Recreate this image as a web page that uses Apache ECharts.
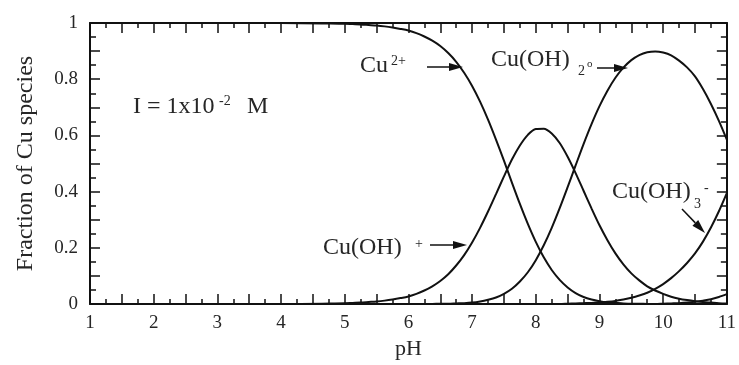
<!DOCTYPE html>
<html>
<head>
<meta charset="utf-8">
<script src="https://cdn.jsdelivr.net/npm/echarts@6/dist/echarts.min.js"></script>
<style>
  html, body { margin: 0; padding: 0; background: #fff; }
  #chart { width: 739px; height: 365px; }
</style>
</head>
<body>
<div id="chart"></div>
<script>
// pH grid: coarse on the flat part, 0.125 steps from pH 5 to 11
const phValues = [1, 2, 3, 4,
  5.0, 5.125, 5.25, 5.375, 5.5, 5.625, 5.75, 5.875,
  6.0, 6.125, 6.25, 6.375, 6.5, 6.625, 6.75, 6.875,
  7.0, 7.125, 7.25, 7.375, 7.5, 7.625, 7.75, 7.875,
  8.0, 8.125, 8.25, 8.375, 8.5, 8.625, 8.75, 8.875,
  9.0, 9.125, 9.25, 9.375, 9.5, 9.625, 9.75, 9.875,
  10.0, 10.125, 10.25, 10.375, 10.5, 10.625, 10.75, 10.875,
  11.0];

// Fraction of each copper species at every pH above
const cu2plus = [1, 1, 1, 1,
  0.997, 0.996, 0.995, 0.993, 0.991, 0.988, 0.984, 0.979,
  0.973, 0.964, 0.952, 0.937, 0.918, 0.893, 0.862, 0.823,
  0.776, 0.720, 0.656, 0.585, 0.510, 0.432, 0.356, 0.285,
  0.221, 0.166, 0.121, 0.086, 0.059, 0.039, 0.025, 0.016,
  0.010, 0.006, 0.004, 0.002, 0.001, 0.001, 0, 0,
  0, 0, 0, 0, 0, 0, 0, 0,
  0];
const cuOHplus = [0, 0, 0, 0,
  0.003, 0.004, 0.005, 0.007, 0.009, 0.012, 0.016, 0.021,
  0.027, 0.036, 0.048, 0.063, 0.082, 0.106, 0.137, 0.174,
  0.219, 0.271, 0.329, 0.391, 0.454, 0.514, 0.564, 0.602,
  0.623, 0.624, 0.607, 0.573, 0.524, 0.466, 0.403, 0.340,
  0.280, 0.227, 0.180, 0.141, 0.109, 0.084, 0.063, 0.048,
  0.036, 0.026, 0.019, 0.014, 0.010, 0.007, 0.005, 0.003,
  0.002];
const cuOH2 = [0, 0, 0, 0,
  0, 0, 0, 0, 0, 0, 0, 0,
  0, 0, 0, 0, 0.001, 0.001, 0.002, 0.003,
  0.005, 0.009, 0.015, 0.023, 0.036, 0.054, 0.080, 0.113,
  0.156, 0.209, 0.271, 0.341, 0.416, 0.493, 0.569, 0.640,
  0.704, 0.759, 0.805, 0.841, 0.868, 0.886, 0.896, 0.899,
  0.895, 0.885, 0.866, 0.842, 0.810, 0.765, 0.712, 0.652,
  0.585];
const cuOH3minus = [0, 0, 0, 0,
  0, 0, 0, 0, 0, 0, 0, 0,
  0, 0, 0, 0, 0, 0, 0, 0,
  0, 0, 0, 0, 0, 0, 0, 0,
  0, 0, 0, 0, 0.001, 0.002, 0.003, 0.004,
  0.006, 0.008, 0.011, 0.016, 0.022, 0.030, 0.040, 0.054,
  0.071, 0.092, 0.117, 0.146, 0.180, 0.222, 0.272, 0.330,
  0.395];
const cuOH4 = [0, 0, 0, 0,
  0, 0, 0, 0, 0, 0, 0, 0,
  0, 0, 0, 0, 0, 0, 0, 0,
  0, 0, 0, 0, 0, 0, 0, 0,
  0, 0, 0, 0, 0, 0, 0, 0,
  0, 0, 0, 0, 0, 0, 0, 0,
  0.001, 0.002, 0.003, 0.005, 0.008, 0.012, 0.017, 0.025,
  0.035];

const xTickLabels = ['1', '2', '3', '4', '5', '6', '7', '8', '9', '10', '11'];
const yTickLabels = ['0', '0.2', '0.4', '0.6', '0.8', '1'];

const SERIF = "'Liberation Serif', 'Times New Roman', serif";
const INK = '#111';
const TEXT = '#262626';

function pairs(ys) { return phValues.map((x, i) => [x, ys[i]]); }

function xAxisDef(pos, labels) {
  return {
    type: 'value', min: 1, max: 11, interval: 0.5, position: pos,
    axisLine: { show: true, onZero: false, lineStyle: { color: INK, width: 2 } },
    axisTick: { show: true, inside: true, length: 10, lineStyle: { color: INK, width: 1.5 } },
    minorTick: { show: true, splitNumber: 2, length: 5, lineStyle: { color: INK, width: 1.5 } },
    splitLine: { show: false },
    axisLabel: labels ? {
      show: true, margin: 10, fontFamily: SERIF, fontSize: 19, color: TEXT,
      formatter: v => {
        const i = Math.round(v) - 1;
        return Math.abs(v - Math.round(v)) < 1e-6 ? xTickLabels[i] : '';
      }
    } : { show: false },
    name: labels ? 'pH' : '',
    nameLocation: 'middle', nameGap: 34,
    nameTextStyle: { fontFamily: SERIF, fontSize: 22, color: TEXT }
  };
}

function yAxisDef(pos, labels) {
  return {
    type: 'value', min: 0, max: 1, interval: 0.1, position: pos,
    axisLine: { show: true, onZero: false, lineStyle: { color: INK, width: 2 } },
    axisTick: { show: true, inside: true, length: 10, lineStyle: { color: INK, width: 1.5 } },
    minorTick: { show: true, splitNumber: 2, length: 6, lineStyle: { color: INK, width: 1.5 } },
    splitLine: { show: false },
    axisLabel: labels ? {
      show: true, margin: 12, fontFamily: SERIF, fontSize: 19, color: TEXT,
      formatter: v => {
        const k = Math.round(v * 10);
        return k % 2 === 0 ? yTickLabels[k / 2] : '';
      }
    } : { show: false },
    name: labels ? 'Fraction of Cu species' : '',
    nameLocation: 'middle', nameGap: 52,
    nameTextStyle: { fontFamily: SERIF, fontSize: 24, color: TEXT }
  };
}

function curve(name, ys) {
  return {
    name, type: 'line', data: pairs(ys), xAxisIndex: 0, yAxisIndex: 0,
    smooth: 0.3, showSymbol: false, silent: true,
    lineStyle: { color: INK, width: 2 }, z: 3
  };
}

function label(text, x, y, size) {
  return { type: 'text', x, y, silent: true,
    style: { text, fontFamily: SERIF, fontSize: size, fill: TEXT, textVerticalAlign: 'middle' } };
}

function arrow(x1, y1, x2, y2) {
  const len = 14, half = 4;
  const dx = x2 - x1, dy = y2 - y1, d = Math.hypot(dx, dy);
  const ux = dx / d, uy = dy / d;
  const bx = x2 - ux * len, by = y2 - uy * len;
  return [
    { type: 'line', silent: true, shape: { x1, y1, x2: bx, y2: by },
      style: { stroke: INK, lineWidth: 1.5 } },
    { type: 'polygon', silent: true,
      shape: { points: [[x2, y2], [bx - uy * half, by + ux * half], [bx + uy * half, by - ux * half]] },
      style: { fill: INK } }
  ];
}

const chart = echarts.init(document.getElementById('chart'));
chart.setOption({
  animation: false,
  backgroundColor: '#fff',
  grid: { left: 90, right: 6, top: 23, bottom: 60, containLabel: false },
  xAxis: [xAxisDef('bottom', true), xAxisDef('top', false)],
  yAxis: [yAxisDef('left', true), yAxisDef('right', false)],
  series: [
    curve('Cu2+', cu2plus),
    curve('Cu(OH)+', cuOHplus),
    curve('Cu(OH)2', cuOH2),
    curve('Cu(OH)3-', cuOH3minus),
    curve('Cu(OH)4 2-', cuOH4)
  ],
  graphic: [
    label('I = 1x10', 133, 107, 24),
    label('-2', 219, 101, 14),
    label('M', 247, 107, 24),

    label('Cu', 360, 66, 24),
    label('2+', 391, 61, 14),
    ...arrow(427, 67, 463, 67),

    label('Cu(OH)', 491, 60, 24),
    label('2', 578, 71, 14),
    label('o', 587, 64, 11),
    ...arrow(597, 68, 628, 68),

    label('Cu(OH)', 323, 248, 24),
    label('+', 415, 244, 14),
    ...arrow(430, 245, 467, 245),

    label('Cu(OH)', 612, 192, 24),
    label('3', 694, 204, 14),
    label('-', 704, 188, 14),
    ...arrow(682, 209, 705, 233)
  ]
});
</script>
</body>
</html>
